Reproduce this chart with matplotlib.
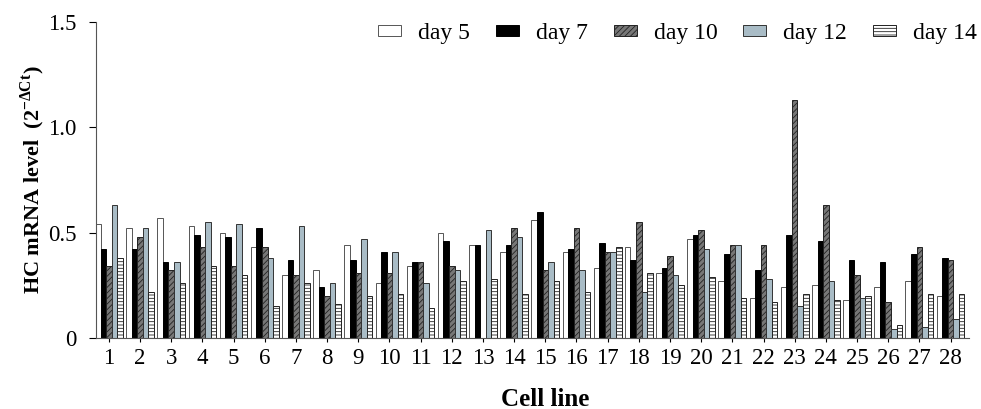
import numpy as np
import matplotlib
matplotlib.use("Agg")
import matplotlib.pyplot as plt

plt.rcParams['font.family'] = ['Liberation Serif', 'DejaVu Serif']
plt.rcParams['hatch.linewidth'] = 0.6

cell_lines = list(range(1, 29))
series_names = ['day 5', 'day 7', 'day 10', 'day 12', 'day 14']

day5 = [0.54, 0.52, 0.57, 0.53, 0.50, 0.43, 0.30, 0.32, 0.44, 0.26, 0.34, 0.50, 0.44, 0.41,
        0.56, 0.41, 0.33, 0.43, 0.31, 0.47, 0.27, 0.19, 0.24, 0.25, 0.18, 0.24, 0.27, 0.20]
day7 = [0.42, 0.42, 0.36, 0.49, 0.48, 0.52, 0.37, 0.24, 0.37, 0.41, 0.36, 0.46, 0.44, 0.44,
        0.60, 0.42, 0.45, 0.37, 0.33, 0.49, 0.40, 0.32, 0.49, 0.46, 0.37, 0.36, 0.40, 0.38]
day10 = [0.34, 0.48, 0.32, 0.43, 0.34, 0.43, 0.30, 0.20, 0.31, 0.31, 0.36, 0.34, 0.0, 0.52,
         0.32, 0.52, 0.41, 0.55, 0.39, 0.51, 0.44, 0.44, 1.13, 0.63, 0.30, 0.17, 0.43, 0.37]
day12 = [0.63, 0.52, 0.36, 0.55, 0.54, 0.38, 0.53, 0.26, 0.47, 0.41, 0.26, 0.32, 0.51, 0.48,
         0.36, 0.32, 0.41, 0.22, 0.30, 0.42, 0.44, 0.28, 0.15, 0.27, 0.19, 0.04, 0.05, 0.09]
day14 = [0.38, 0.22, 0.26, 0.34, 0.30, 0.15, 0.26, 0.16, 0.20, 0.21, 0.14, 0.27, 0.28, 0.21,
         0.27, 0.22, 0.43, 0.31, 0.25, 0.29, 0.19, 0.17, 0.21, 0.18, 0.20, 0.06, 0.21, 0.21]

series = [day5, day7, day10, day12, day14]
styles = [
    dict(facecolor='white', edgecolor='#555555', hatch=None),
    dict(facecolor='black', edgecolor='black', hatch=None),
    dict(facecolor='#777777', edgecolor='#222222', hatch='//////'),
    dict(facecolor='#a9bcc6', edgecolor='#333333', hatch=None),
    dict(facecolor='white', edgecolor='#222222', hatch='-----'),
]

fig = plt.figure(figsize=(9.81, 4.09), dpi=100)
ax = fig.add_axes([0.098, 0.174, 0.89, 0.772])

x = np.array(cell_lines)
width = 0.178
for i, (vals, st) in enumerate(zip(series, styles)):
    ax.bar(x + (i - 2) * width, vals, width, label=series_names[i],
           linewidth=0.7, **st)

ax.set_xlim(0.59, 28.6)
ax.set_ylim(0, 1.5)
ax.set_yticks([0, 0.5, 1.0, 1.5])
ax.set_yticklabels(['0', '0.5', '1.0', '1.5'])
ax.set_xticks(x)
ax.set_xticklabels([str(c) for c in cell_lines])
ax.tick_params(axis='both', labelsize=16.5, direction='out', width=0.8)
ax.tick_params(axis='y', length=5, pad=9)
ax.tick_params(axis='x', length=3, pad=4)
ax.spines['top'].set_visible(False)
ax.spines['right'].set_visible(False)
ax.spines['left'].set_color('#555555')
ax.spines['bottom'].set_color('#555555')

ax.set_ylabel(r'HC mRNA level  (2$^{\mathregular{-\Delta Ct}}$)', fontsize=16,
              fontweight='bold')
ax.yaxis.set_label_coords(-0.056, 0.5)
ax.set_xlabel('Cell line', fontsize=18, fontweight='bold')
ax.xaxis.set_label_coords(0.514, -0.158)

ax.legend(ncol=5, loc='upper right', bbox_to_anchor=(979 / 981, 1 - 21 / 409),
          bbox_transform=fig.transFigure, frameon=False, borderaxespad=0, borderpad=0.1,
          fontsize=17, handlelength=0.97, handleheight=0.35, columnspacing=1.1,
          handletextpad=0.72)

fig.savefig('out.png', dpi=100)
